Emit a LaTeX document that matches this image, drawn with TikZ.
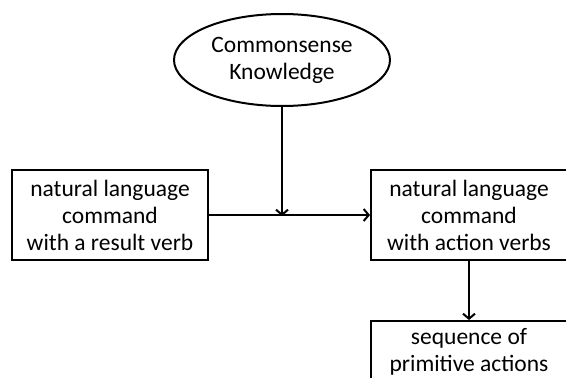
\documentclass[tikz,border=0pt]{standalone}
\usepackage{fontspec}
\setmainfont{Carlito}
\usetikzlibrary{shapes.geometric,arrows.meta}
\begin{document}
\begin{tikzpicture}[x=1pt,y=-1pt,
  every node/.style={font=\fontsize{23.5}{27}\selectfont, align=center, inner sep=0pt},
  box/.style={draw, line width=2pt, minimum width=196pt, minimum height=90pt},
  oval/.style={draw, ellipse, line width=2pt, minimum width=216pt, minimum height=92pt},
  conn/.style={line width=2pt, -{Straight Barb[length=5pt,width=12pt,line width=2pt]}}]
\useasboundingbox (0,0) rectangle (566,378);
\clip (0,0) rectangle (566,378);
\node[oval] (ck) at (282,60) {Commonsense\\Knowledge};
\node[box] (src) at (110,215) {natural language\\command\\with a result verb};
\node[box] (act) at (469,215) {natural language\\command\\with action verbs};
\node[box, anchor=north] (seq) at (469,320) {};
\node[anchor=north] (seqtxt) at ([yshift=-8pt]seq.north) {sequence of\\primitive actions};
\coordinate (meet) at (ck.south |- src.east);
\draw[conn] (src.east) -- (act.west);
\draw[conn] (ck.south) -- ([yshift=-1pt]meet);
\draw[conn] (act.south) -- (seq.north);
\end{tikzpicture}
\end{document}
